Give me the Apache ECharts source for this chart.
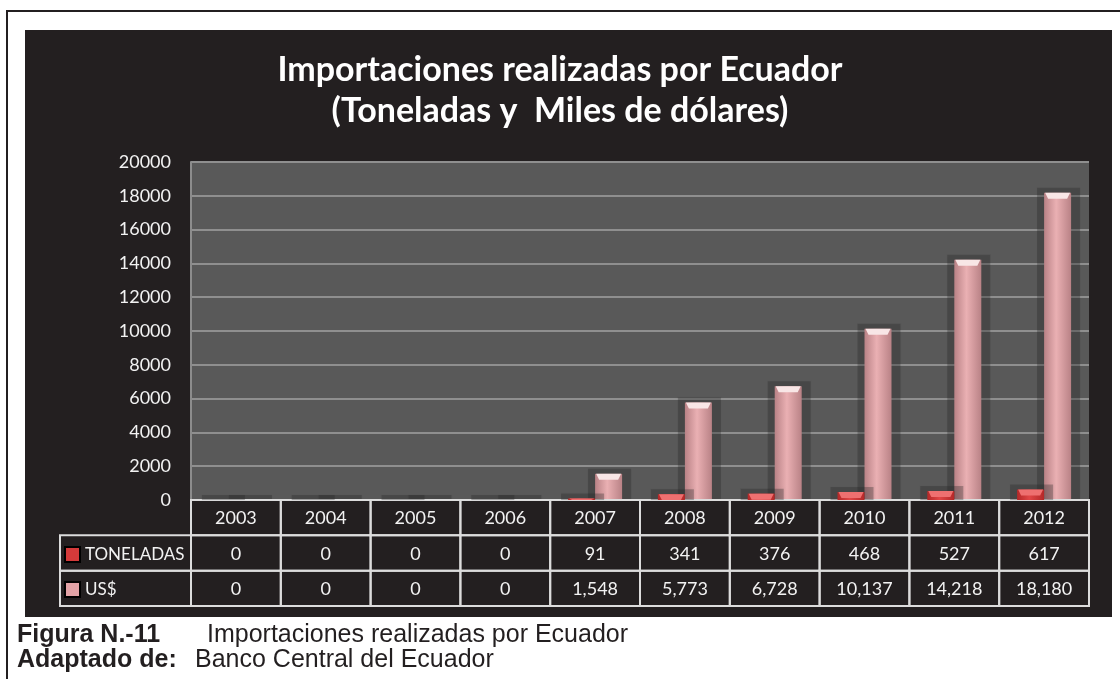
<!DOCTYPE html>
<html>
<head>
<meta charset="utf-8">
<script src="https://cdn.jsdelivr.net/npm/echarts@6/dist/echarts.min.js"></script>
<style>
  html, body { margin: 0; padding: 0; background: #fff; }
  #main { width: 1120px; height: 679px; }
</style>
</head>
<body>
<div id="main"></div>
<script>
// datos
const years = ['2003', '2004', '2005', '2006', '2007', '2008', '2009', '2010', '2011', '2012']
const toneladas = [0, 0, 0, 0, 91, 341, 376, 468, 527, 617]
const usd = [0, 0, 0, 0, 1548, 5773, 6728, 10137, 14218, 18180]
const seriesNames = ['TONELADAS', 'US$']
const tableRows = ['Año', 'TONELADAS', 'US$']

const FONT = 'Lato, "Open Sans", sans-serif'
const fmt = v => v.toLocaleString('en-US')

// barra con su "caja" de sombra y tapa clara arriba
function barRender(side, edge, mid, cap) {
  return function (params, api) {
    const i = api.value(0)
    const v = api.value(1)
    const top = api.coord([i, v])
    const base = api.coord([i, 0])
    const band = api.size([1, 0])[0]
    const w = Math.round(band * 0.3)
    const x = side === 0 ? base[0] - w : base[0]
    const h = base[1] - top[1]
    const children = [{
      type: 'rect',
      shape: { x: x - 7, y: top[1] - 5, width: w + 16, height: h + 5 },
      style: { fill: 'rgba(40,40,40,0.3)', shadowBlur: 2, shadowColor: 'rgba(0,0,0,0.15)' }
    }]
    if (h > 0.5) {
      children.push({
        type: 'rect',
        shape: { x: x, y: top[1], width: w, height: h },
        style: {
          fill: new echarts.graphic.LinearGradient(0, 0, 1, 0, [
            { offset: 0, color: edge },
            { offset: 0.45, color: mid },
            { offset: 1, color: edge }
          ])
        }
      })
      const ch = Math.min(6, h)
      children.push({
        type: 'polygon',
        shape: { points: [[x + 1, top[1]], [x + w - 1, top[1]], [x + w - 4, top[1] + ch], [x + 4, top[1] + ch]] },
        style: { fill: cap }
      })
    }
    return { type: 'group', children: children }
  }
}

// celdas de la tabla de datos
const tableData = []
years.forEach((y, i) => {
  tableData.push([i, 0, y])
  tableData.push([i, 1, fmt(toneladas[i])])
  tableData.push([i, 2, fmt(usd[i])])
})
tableData.push([-1, 1, ''], [-1, 2, ''])

function cellRender(params, api) {
  const col = api.value(0)
  const row = api.value(1)
  const cs = params.coordSys
  const size = api.size([1, 1])
  const c = api.coord([Math.max(col, 0), row])
  let x = c[0] - size[0] / 2
  let w = size[0]
  if (col < 0) {
    x = cs.x - 131
    w = 131
  }
  const y = c[1] - size[1] / 2
  return {
    type: 'group',
    children: [{
      type: 'rect',
      shape: { x: x, y: y, width: w, height: size[1] },
      style: { fill: 'none', stroke: '#dcdcdc', lineWidth: 2 }
    }, {
      type: 'text',
      style: {
        x: x + w / 2,
        y: y + size[1] / 2 + 1,
        text: tableData[params.dataIndex][2],
        align: 'center',
        verticalAlign: 'middle',
        fill: '#f2f2f2',
        font: '18px ' + FONT
      }
    }]
  }
}

const myChart = echarts.init(document.getElementById('main'))

const option = {
  backgroundColor: '#ffffff',
  animation: false,
  title: {
    text: 'Importaciones realizadas por Ecuador\n(Toneladas y  Miles de dólares)',
    left: 'center',
    top: 45,
    textStyle: {
      color: '#ffffff',
      fontFamily: FONT,
      fontWeight: 'bold',
      fontSize: 34,
      lineHeight: 41
    }
  },
  legend: {
    orient: 'vertical',
    left: 64,
    top: 546,
    padding: 0,
    itemWidth: 15,
    itemHeight: 15,
    itemGap: 18,
    selectedMode: false,
    textStyle: { color: '#f2f2f2', fontSize: 17, fontFamily: FONT },
    data: [
      { name: seriesNames[0], icon: 'rect', itemStyle: { borderColor: '#000', borderWidth: 2 } },
      { name: seriesNames[1], icon: 'rect', itemStyle: { borderColor: '#000', borderWidth: 2 } }
    ]
  },
  graphic: [{
    type: 'polyline',
    z: -100,
    shape: { points: [[7, 679], [7, 11], [1120, 11]] },
    style: { stroke: '#231f20', lineWidth: 2, fill: 'none' }
  }, {
    type: 'rect',
    z: -100,
    shape: { x: 25, y: 30, width: 1087, height: 587 },
    style: { fill: '#231f20' }
  }, {
    type: 'text',
    left: 17,
    top: 623,
    style: { text: 'Figura N.-11', fill: '#231f20', font: 'bold 25px "Liberation Sans", Arial, sans-serif' }
  }, {
    type: 'text',
    left: 207,
    top: 623,
    style: { text: 'Importaciones realizadas por Ecuador', fill: '#231f20', font: '25px "Liberation Sans", Arial, sans-serif' }
  }, {
    type: 'text',
    left: 17,
    top: 648,
    style: { text: 'Adaptado de:', fill: '#231f20', font: 'bold 25px "Liberation Sans", Arial, sans-serif' }
  }, {
    type: 'text',
    left: 195,
    top: 648,
    style: { text: 'Banco Central del Ecuador', fill: '#231f20', font: '25px "Liberation Sans", Arial, sans-serif' }
  }],
  grid: [{
    left: 191,
    right: 31,
    top: 162,
    bottom: 179,
    show: true,
    backgroundColor: '#595959',
    borderWidth: 0
  }, {
    left: 191,
    right: 31,
    top: 500,
    bottom: 73
  }],
  xAxis: [{
    type: 'category',
    gridIndex: 0,
    data: years,
    axisLine: { show: false },
    axisTick: { show: false },
    axisLabel: { show: false }
  }, {
    type: 'category',
    gridIndex: 1,
    data: years,
    show: false
  }],
  yAxis: [{
    type: 'value',
    gridIndex: 0,
    min: 0,
    max: 20000,
    interval: 2000,
    axisLine: { show: true, lineStyle: { color: '#8c8c8c', width: 2 } },
    axisTick: { show: false },
    axisLabel: { color: '#f2f2f2', fontSize: 18, fontFamily: FONT, margin: 20, formatter: v => String(v) },
    splitLine: { lineStyle: { color: '#8f8f8f', width: 2 } }
  }, {
    type: 'category',
    gridIndex: 1,
    data: tableRows,
    inverse: true,
    show: false
  }],
  series: [{
    name: seriesNames[1],
    type: 'custom',
    xAxisIndex: 0,
    yAxisIndex: 0,
    z: 2,
    itemStyle: { color: '#e2a2a6' },
    renderItem: barRender(1, '#b98286', '#eab0b3', '#f8e6e6'),
    data: usd.map((v, i) => [i, v])
  }, {
    name: seriesNames[0],
    type: 'custom',
    xAxisIndex: 0,
    yAxisIndex: 0,
    z: 3,
    itemStyle: { color: '#d43a3a' },
    renderItem: barRender(0, '#b42828', '#e04646', '#ee7070'),
    data: toneladas.map((v, i) => [i, v])
  }, {
    name: 'tabla',
    type: 'custom',
    xAxisIndex: 1,
    yAxisIndex: 1,
    silent: true,
    renderItem: cellRender,
    data: tableData
  }]
}

option && myChart.setOption(option)
</script>
</body>
</html>
